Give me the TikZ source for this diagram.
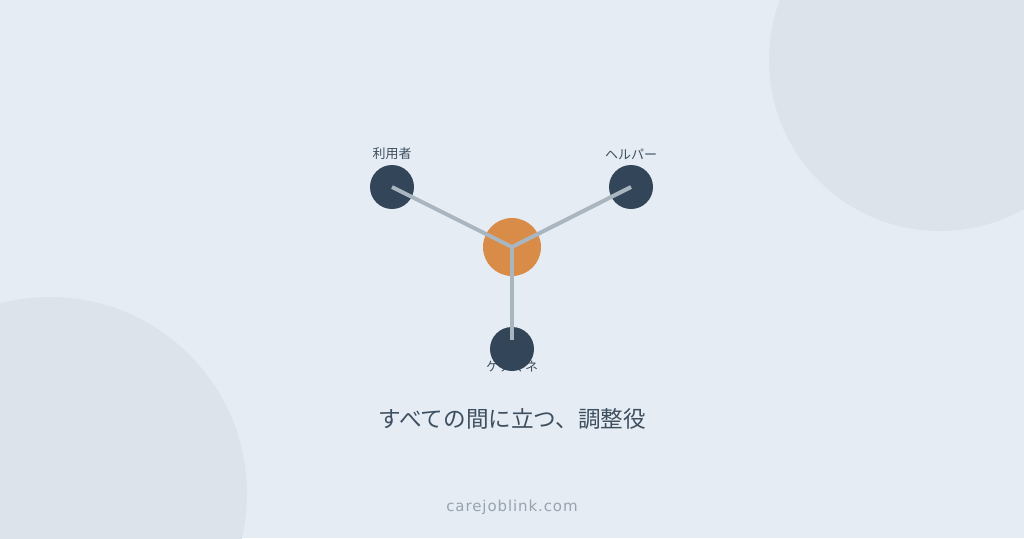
\documentclass[tikz,border=0pt]{standalone}
\usepackage{fontspec}
\usepackage{xcolor}
\usepackage{tikz}
\newfontfamily\jpfont{Noto Sans CJK JP}
\newfontfamily\urlfont[LetterSpace=6]{DejaVu Sans}
\definecolor{bgblue}{HTML}{E5ECF4}
\definecolor{blobgray}{HTML}{DCE3EB}
\definecolor{navy}{HTML}{324559}
\definecolor{hub}{HTML}{D98C47}
\definecolor{spoke}{HTML}{AAB6BF}
\definecolor{txtgray}{HTML}{3E4F60}
\definecolor{urlgray}{HTML}{97A3AE}

\begin{document}
\begin{tikzpicture}[x=1pt, y=-1pt, thick,
    main/.style = {circle, fill=navy, minimum size=44pt, inner sep=0pt},
    hubnode/.style = {circle, fill=hub, minimum size=58pt, inner sep=0pt},
    lbl/.style = {font=\jpfont\fontsize{13}{15}\selectfont, text=txtgray, inner sep=0pt},
    link/.style = {draw=spoke, line width=4pt}]
    % background
    \fill[bgblue] (0,0) rectangle (1024,538);
    \useasboundingbox (0,0) rectangle (1024,538);
    \begin{scope}
        \clip (0,0) rectangle (1024,538);
        \fill[blobgray] (940,60) circle (171);
        \fill[blobgray] (50,494) circle (197);
    \end{scope}

    % labels first (bottom one sits behind its circle)
    \node[lbl] (l1) at (392,154) {利用者};
    \node[lbl] (l2) at (631,154) {ヘルパー};
    \node[lbl] (l3) at (512,367) {ケアマネ};

    \node[hubnode] (0) at (512,247) {};
    \node[main] (1) at (392,187) {};
    \node[main] (2) at (631,187) {};
    \node[main] (3) at (512,349) {};
    \coordinate (3e) at (512,340);

    \draw[link] (0.center) -- (1.center);
    \draw[link] (0.center) -- (2.center);
    \draw[link] (0.center) -- (3e);

    \node[font=\jpfont\fontsize{22.6}{26}\selectfont, text=txtgray] (cap) at (512,419) {すべての間に立つ、調整役};
    \node[font=\urlfont\fontsize{15}{18}\selectfont, text=urlgray] (url) at (512,507) {carejoblink.com};
\end{tikzpicture}
\end{document}
